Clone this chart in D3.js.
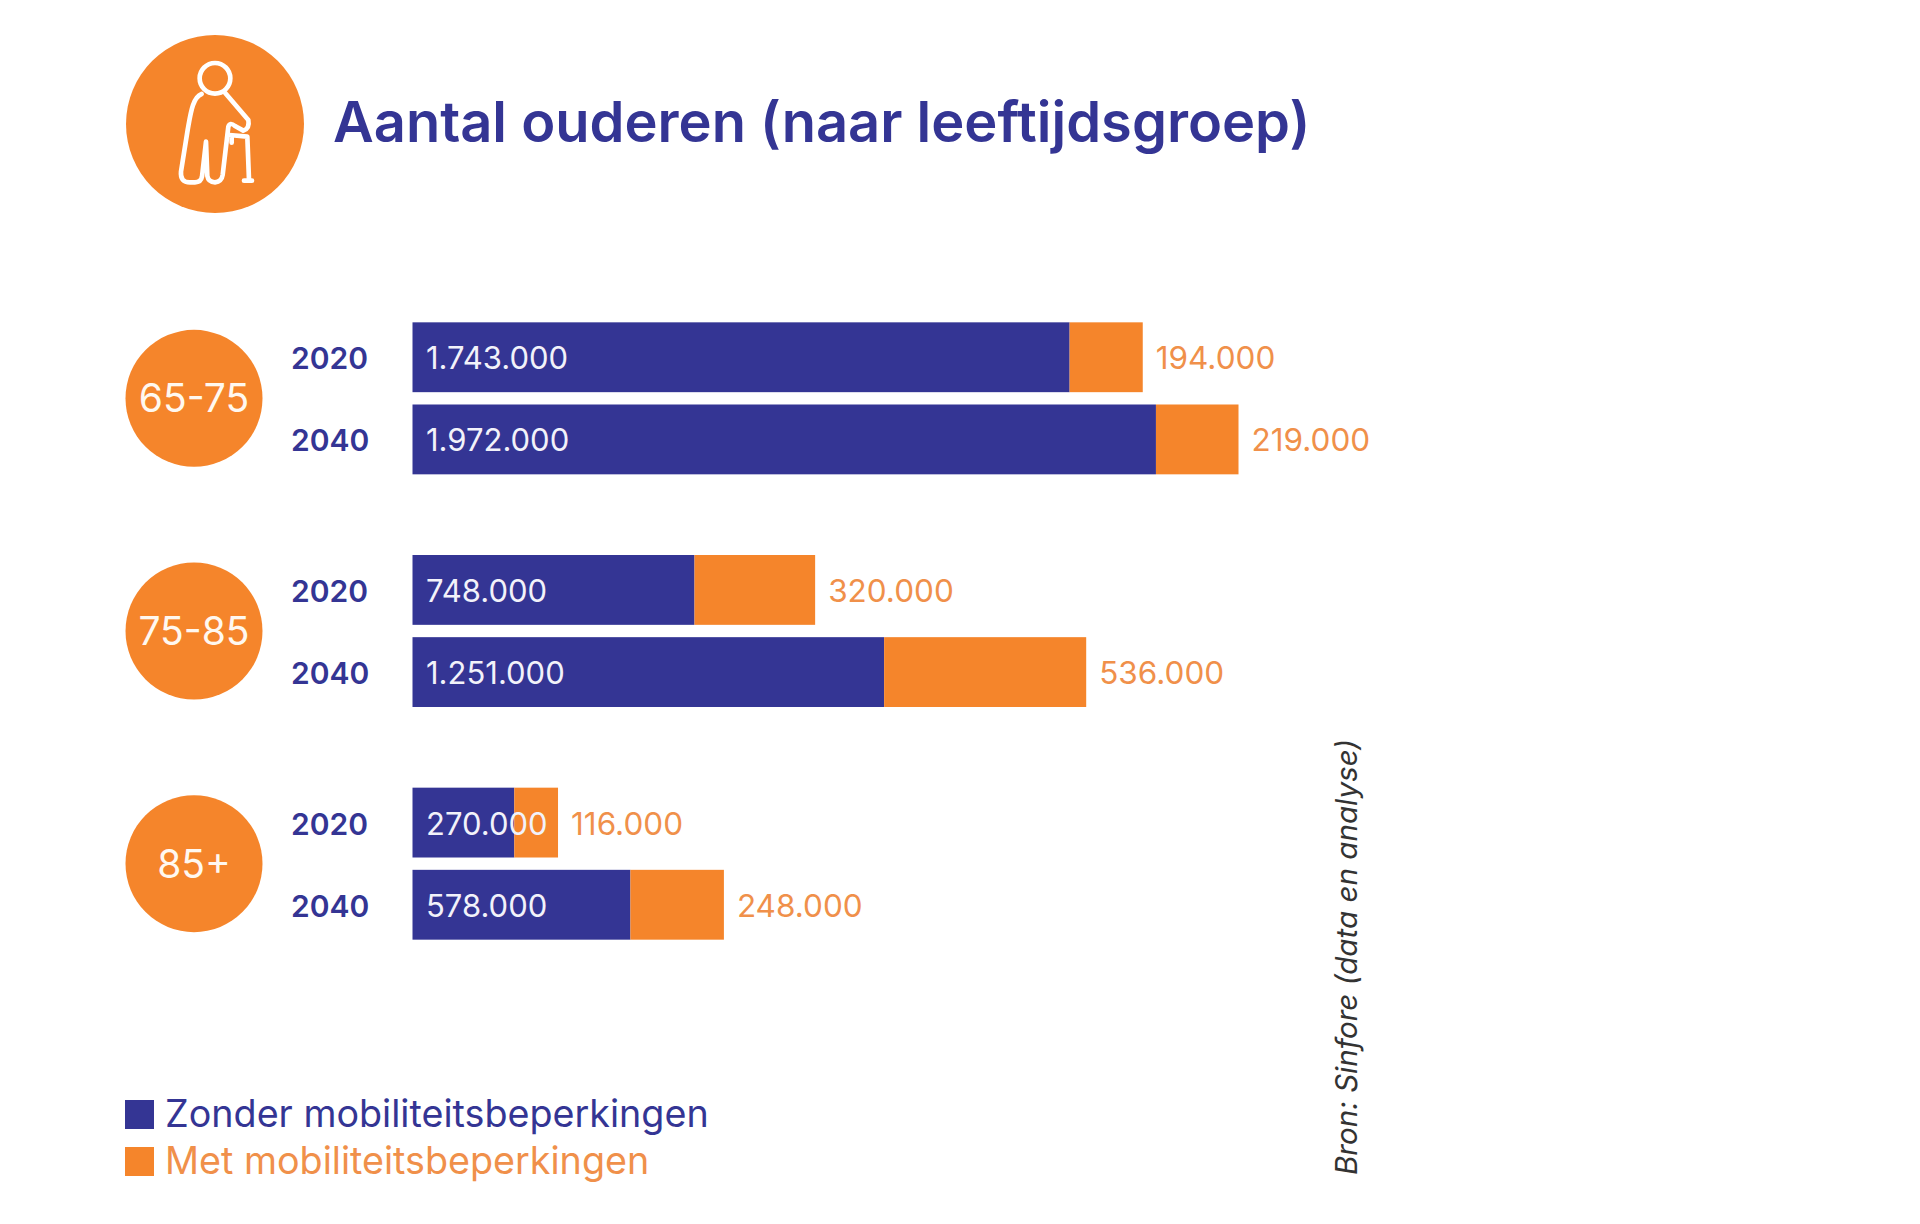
<!DOCTYPE html>
<html><head><meta charset="utf-8">
<script src="https://d3js.org/d3.v7.min.js"></script>
<style>html,body{margin:0;padding:0;background:#fff}svg{display:block}text{font-family:Inter,Lato,sans-serif}</style>
</head><body><svg id="c" width="1920" height="1224"></svg>
<script>
const titleText = "Aantal ouderen (naar leeftijdsgroep)";
const ageGroups = ["65-75", "75-85", "85+"];
const years = ["2020", "2040"];
const withoutLimit = [[1743000, 1972000], [748000, 1251000], [270000, 578000]];
const withLimit = [[194000, 219000], [320000, 536000], [116000, 248000]];
const seriesNames = ["Zonder mobiliteitsbeperkingen", "Met mobiliteitsbeperkingen"];
const sourceText = "Bron: Sinfore (data en analyse)";

const navy = "#343594", orange = "#F5852B", orangeText = "#F0904A";
const svg = d3.select("#c");
const fmt = d3.formatLocale({decimal: ",", thousands: ".", grouping: [3], currency: ["", ""]}).format(",d");

const x = d3.scaleLinear().domain([0, 1000000]).range([412.5, 789.5]);
const yGroup = d3.scaleBand().domain(ageGroups).range([282, 980]).padding(0);
const yRow = d3.scaleBand().domain(years).range([-76, 76]).paddingInner(0.15).paddingOuter(0);
const rows = ageGroups.flatMap((g, i) => years.map((yr, j) => ({g, yr, a: withoutLimit[i][j], b: withLimit[i][j]})));
const cy = d => yGroup(d.g) + yGroup.bandwidth() / 2 + yRow(d.yr) + yRow.bandwidth() / 2;

// header
svg.append("circle").attr("cx", 215).attr("cy", 124).attr("r", 89).attr("fill", orange);
const icon = svg.append("g").attr("transform", "translate(100,20) scale(0.3333)")
  .attr("fill", "none").attr("stroke", "#fff").attr("stroke-width", 14).attr("stroke-linejoin", "round").attr("stroke-linecap", "round");
icon.append("circle").attr("cx", 345).attr("cy", 175).attr("r", 46);
icon.append("path").attr("d", "M305 222C278 232 272 280 263 330L243 455Q240 487 270 487L285 487Q303 487 306 470L318 365L322 468Q325 487 345 487Q365 485 368 465L385 320Q390 305 405 318L430 332Q450 325 445 300L375 218");
icon.append("path").attr("d", "M388 345L442 350L447 478M395 350L395 368M432 482L456 482");

svg.append("text").text(titleText).attr("x", 333).attr("y", 142).attr("font-size", 56).attr("font-weight", 600).attr("fill", navy);

// age circles
const gs = svg.append("g").selectAll("g").data(ageGroups).join("g")
  .attr("transform", d => `translate(194,${yGroup(d) + yGroup.bandwidth() / 2})`);
gs.append("circle").attr("r", 68.5).attr("fill", orange);
gs.append("text").text(d => d).attr("text-anchor", "middle").attr("y", 14).attr("font-size", 39).attr("fill", "#fff8f0");

// rows
const r = svg.append("g").selectAll("g").data(rows).join("g");
const h = yRow.bandwidth();
r.append("rect").attr("x", x(0)).attr("y", d => cy(d) - h / 2).attr("width", d => x(d.a) - x(0)).attr("height", h).attr("fill", navy);
r.append("rect").attr("x", d => x(d.a)).attr("y", d => cy(d) - h / 2).attr("width", d => x(d.a + d.b) - x(d.a)).attr("height", h).attr("fill", orange);
r.append("text").text(d => d.yr).attr("x", 291).attr("y", d => cy(d) + 12).attr("font-size", 30).attr("font-weight", 600).attr("fill", navy);
r.append("text").text(d => fmt(d.a)).attr("x", 426).attr("y", d => cy(d) + 12).attr("font-size", 31).attr("fill", "#f2f2fa");
r.append("text").text(d => fmt(d.b)).attr("x", d => x(d.a + d.b) + 13).attr("y", d => cy(d) + 12).attr("font-size", 31.5).attr("fill", orangeText);

// legend
const lg = svg.append("g").selectAll("g").data(seriesNames).join("g")
  .attr("transform", (d, i) => `translate(125,${1100 + i * 47})`);
lg.append("rect").attr("width", 29).attr("height", 29).attr("fill", (d, i) => i ? orange : navy);
lg.append("text").text(d => d).attr("x", 40).attr("y", 27).attr("font-size", 37.7).attr("fill", (d, i) => i ? orangeText : navy);

// source
svg.append("text").text(sourceText).attr("transform", "translate(1357,1175) rotate(-90)")
  .attr("font-size", 29.6).attr("font-style", "italic").attr("fill", "#333");
</script></body></html>
